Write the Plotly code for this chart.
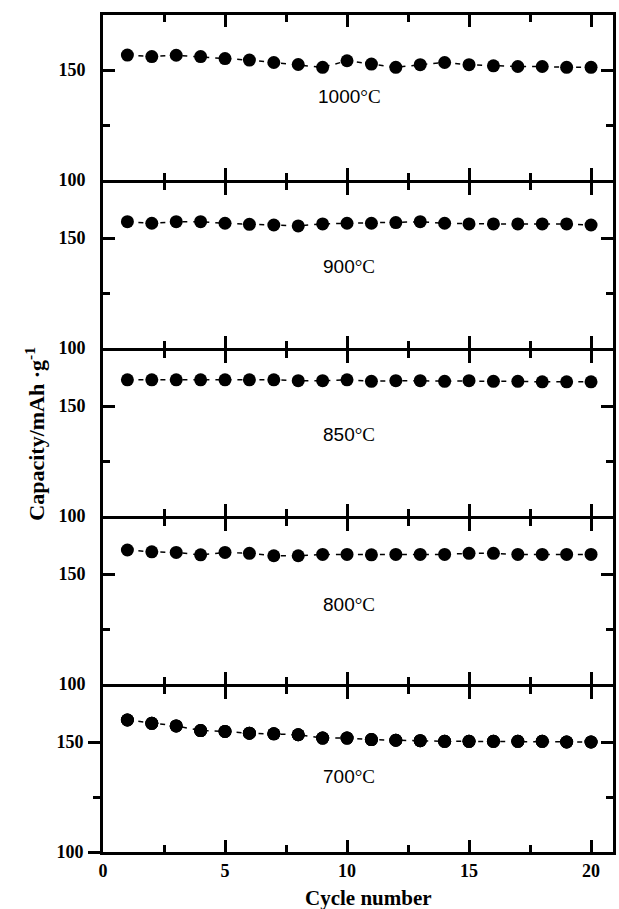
import plotly.graph_objects as go
from plotly.subplots import make_subplots

cycles = list(range(1, 21))
temps = ["1000", "900", "850", "800", "700"]
cap_1000 = [156.8, 156.1, 156.7, 156.1, 155.2, 154.5, 153.4, 152.5, 151.2, 154.2,
            152.7, 151.2, 152.4, 153.4, 152.4, 151.9, 151.6, 151.6, 151.2, 151.2]
cap_900 = [157.4, 156.7, 157.4, 157.4, 156.7, 156.2, 155.9, 155.5, 156.4, 156.7,
           156.7, 157.0, 157.4, 156.7, 156.4, 156.4, 156.4, 156.4, 156.4, 155.9]
cap_850 = [161.9, 161.9, 161.9, 161.9, 161.9, 161.9, 161.9, 161.5, 161.5, 161.9,
           161.2, 161.5, 161.5, 161.2, 161.5, 161.2, 161.2, 161.0, 161.0, 161.0]
cap_800 = [160.9, 160.1, 159.8, 158.7, 159.8, 159.4, 158.3, 158.3, 158.9, 158.9,
           158.7, 158.9, 158.9, 158.9, 159.4, 159.4, 158.9, 158.9, 158.9, 158.9]
cap_700 = [160.0, 158.5, 157.3, 155.2, 154.8, 154.0, 153.7, 153.3, 151.8, 151.8,
           151.1, 150.8, 150.6, 150.3, 150.3, 150.3, 150.3, 150.3, 150.0, 150.0]
series = [cap_1000, cap_900, cap_850, cap_800, cap_700]
label_x = 10.1
label_y = [137.9, 137.0, 137.0, 136.0, 134.4]
x_major = [0, 5, 10, 15, 20]
x_minor = [2.5, 7.5, 12.5, 17.5]
y_major = [100, 150]
y_minor = [125]
x_range = [0, 20.9]
y_range = [100, 175]

SERIF = "Liberation Serif"
SANS = "Liberation Sans"
TICKFONT = dict(family=SERIF, size=18, color="black", weight="bold")

PLOT_H = 909 - 15 - 57
gap = 3.0 / PLOT_H
panel_h = (1 - 4 * gap) / 5

fig = make_subplots(rows=5, cols=1, vertical_spacing=0)

for i, vals in enumerate(series):
    r = i + 1
    top = 1 - i * (panel_h + gap)
    dom = [max(0.0, top - panel_h), min(1.0, top)]
    fig.add_trace(go.Scatter(
        x=cycles, y=vals, mode="lines+markers",
        line=dict(color="black", width=1.5, dash="5px,6px"),
        marker=dict(color="black", size=13),
        showlegend=False, hoverinfo="skip"), row=r, col=1)
    fig.add_annotation(
        x=label_x, y=label_y[i], xref=f"x{'' if r == 1 else r}",
        yref=f"y{'' if r == 1 else r}",
        text=f"{temps[i]}<span style='font-family:{SERIF}'>°C</span>",
        showarrow=False, font=dict(family=SANS, size=19, color="black"),
        xanchor="center", yanchor="middle")
    last = (r == 5)
    fig.update_xaxes(
        row=r, col=1, range=x_range, showline=True, linewidth=3, linecolor="black",
        mirror="ticks", ticks="inside", ticklen=12, tickwidth=3, tickcolor="black",
        tickvals=x_major, showticklabels=False, showgrid=False, zeroline=False,
        minor=dict(tickvals=x_minor, ticks="inside", ticklen=7, tickwidth=3,
                   tickcolor="black", showgrid=False),
        fixedrange=True)
    fig.update_yaxes(
        row=r, col=1, range=y_range, domain=dom, showline=True, linewidth=3,
        linecolor="black",
        mirror=(True if last else "ticks"), ticks=("outside" if last else "inside"),
        ticklen=12, tickwidth=3, tickcolor="black",
        tickvals=y_major, showgrid=False, zeroline=False,
        tickfont=TICKFONT,
        ticklabelstandoff=(1 if last else 11),
        minor=dict(tickvals=y_minor, ticks=("outside" if last else "inside"),
                   ticklen=7, tickwidth=3, tickcolor="black", showgrid=False),
        fixedrange=True)

# overlay axes for the bottom panel: right inward y ticks and x tick labels
fig.add_trace(go.Scatter(x=cycles, y=cap_700, mode="markers", xaxis="x5", yaxis="y6",
                         marker=dict(color="black", size=13), showlegend=False,
                         hoverinfo="skip"))
fig.add_trace(go.Scatter(x=cycles, y=cap_700, mode="markers", xaxis="x6", yaxis="y5",
                         marker=dict(color="black", size=13), showlegend=False,
                         hoverinfo="skip"))
fig.update_layout(
    yaxis6=dict(
        overlaying="y5", anchor="x5", side="right", range=y_range, showline=False,
        ticks="inside", ticklen=12, tickwidth=3, tickcolor="black", tickvals=y_major,
        showticklabels=False, showgrid=False, zeroline=False,
        minor=dict(tickvals=y_minor, ticks="inside", ticklen=7, tickwidth=3,
                   tickcolor="black", showgrid=False),
        fixedrange=True),
    xaxis6=dict(
        overlaying="x5", anchor="y5", side="bottom", range=x_range, showline=False,
        ticks="", tickvals=x_major, showticklabels=True, showgrid=False,
        zeroline=False, tickfont=TICKFONT, ticklabelstandoff=6, fixedrange=True))

fig.add_annotation(
    x=-0.135, y=0.5, xref="paper", yref="paper", textangle=-90,
    text="<b>Capacity/mAh ·g<sup>-1</sup></b>", showarrow=False,
    font=dict(family=SERIF, size=22, color="black"), xanchor="center", yanchor="middle")
fig.add_annotation(
    x=0.52, y=-0.055, xref="paper", yref="paper",
    text="<b>Cycle number</b>", showarrow=False,
    font=dict(family=SERIF, size=21, color="black"), xanchor="center", yanchor="middle")

fig.update_layout(
    width=619, height=909, margin=dict(l=103, r=3, t=15, b=57),
    paper_bgcolor="white", plot_bgcolor="white", showlegend=False)

fig.write_html("out.html")
